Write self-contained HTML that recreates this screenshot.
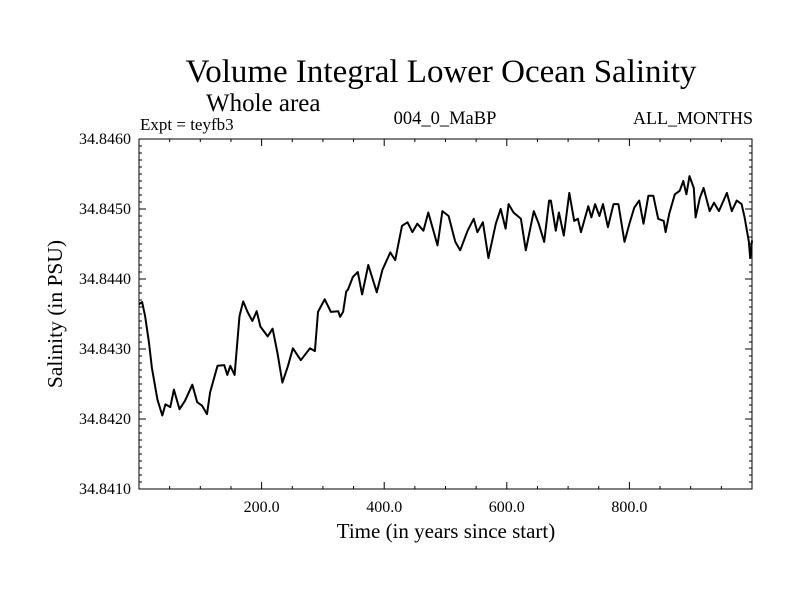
<!DOCTYPE html>
<html><head><meta charset="utf-8"><style>
body{margin:0;background:#fff;}
svg text{font-family:"Liberation Serif",serif;fill:#000;}
</style></head><body>
<svg id="chart" width="800" height="600" viewBox="0 0 800 600" xmlns="http://www.w3.org/2000/svg">
<rect width="800" height="600" fill="#fff"/>
<text x="441" y="82" font-size="33" text-anchor="middle">Volume Integral Lower Ocean Salinity</text>
<text x="206" y="111" font-size="25">Whole area</text>
<text x="140" y="130" font-size="17">Expt = teyfb3</text>
<text x="445" y="124" font-size="18.5" text-anchor="middle">004_0_MaBP</text>
<text x="753" y="124" font-size="18" text-anchor="end">ALL_MONTHS</text>
<text x="446" y="538" font-size="21" text-anchor="middle">Time (in years since start)</text>
<text transform="translate(62,314) rotate(-90)" font-size="21.5" text-anchor="middle">Salinity (in PSU)</text>
<g id="axes"></g>
<g id="series"></g>
</svg>
<script>
const xTicks=[200,400,600,800];
const xTickLabels=["200.0","400.0","600.0","800.0"];
const yTicks=[34.841,34.842,34.843,34.844,34.845,34.846];
const yTickLabels=["34.8410","34.8420","34.8430","34.8440","34.8450","34.8460"];
const years=[0,5,10,16,21,30,38,43,51,57,66,75,87,95,103,111,116,128,139,144,149,156,164,170,177,185,192,198,210,218,226,234,243,251,264,279,287,292,303,313,325,328,333,338,341,349,357,364,374,388,397,410,418,429,438,446,454,464,472,487,495,505,516,524,536,546,552,561,570,582,590,598,603,611,623,631,644,652,661,669,672,680,685,693,702,710,716,721,733,738,744,751,757,765,774,782,792,800,808,816,823,831,839,847,856,859,865,874,882,888,893,898,905,908,915,921,931,938,946,959,967,975,983,988,995,997,1000];
const salinity=[34.84364,34.84367,34.84347,34.84311,34.84273,34.84228,34.84205,34.84221,34.84217,34.84242,34.84214,34.84226,34.84249,34.84224,34.84219,34.84207,34.84238,34.84276,34.84277,34.84263,34.84276,34.84263,34.84347,34.84368,34.84353,34.84340,34.84354,34.84332,34.84318,34.84329,34.84294,34.84252,34.84276,34.84301,34.84284,34.84301,34.84297,34.84353,34.84371,34.84353,34.84354,34.84346,34.84353,34.84382,34.84385,34.84403,34.84410,34.84378,34.84420,34.84381,34.84413,34.84438,34.84427,34.84476,34.84481,34.84467,34.84479,34.84469,34.84495,34.84448,34.84497,34.84490,34.84453,34.84441,34.84469,34.84486,34.84467,34.84481,34.84430,34.84479,34.84500,34.84472,34.84507,34.84495,34.84486,34.84441,34.84497,34.84479,34.84453,34.84512,34.84512,34.84469,34.84495,34.84462,34.84523,34.84483,34.84486,34.84467,34.84504,34.84488,34.84507,34.84490,34.84507,34.84474,34.84507,34.84507,34.84453,34.84479,34.84502,34.84512,34.84479,34.84519,34.84519,34.84486,34.84483,34.84467,34.84493,34.84521,34.84526,34.84540,34.84521,34.84547,34.84530,34.84488,34.84516,34.84530,34.84497,34.84509,34.84497,34.84523,34.84497,34.84512,34.84507,34.84488,34.84453,34.84430,34.84455];

const NS="http://www.w3.org/2000/svg";
const L=139,R=752,T=139,B=489;
const X0=0,X1=1000,Y0=34.841,Y1=34.846;
function xs(v){return L+(v-X0)/(X1-X0)*(R-L);}
function ys(v){return B-(v-Y0)/(Y1-Y0)*(B-T);}
const axes=document.getElementById('axes');
function mk(tag,attrs,parent){const e=document.createElementNS(NS,tag);for(const k in attrs)e.setAttribute(k,attrs[k]);parent.appendChild(e);return e;}
const frame=mk('rect',{x:L,y:T,width:R-L,height:B-T,fill:'none',stroke:'#000','stroke-width':1},axes);


for(let v=50;v<X1;v+=50){
  const major=v%200===0;const len=major?7:3;const x=xs(v);
  const t1=mk('line',{x1:x,x2:x,y1:B,y2:B-len,stroke:'#000'},axes);
  
  
  const t2=mk('line',{x1:x,x2:x,y1:T,y2:T+len,stroke:'#000'},axes);
  
  
}
xTicks.forEach((v,i)=>{
  const t=mk('text',{x:xs(v),y:B+23,'font-size':16,'text-anchor':'middle'},axes);
  t.textContent=xTickLabels[i];
  
  
});
for(let k=1;k<50;k++){
  const v=Y0+k*0.0001;const major=k%10===0;const len=major?7:3;const y=ys(v);
  const t1=mk('line',{x1:L,x2:L+len,y1:y,y2:y,stroke:'#000'},axes);
  
  
  const t2=mk('line',{x1:R,x2:R-len,y1:y,y2:y,stroke:'#000'},axes);
  
  
}
yTicks.forEach((v,i)=>{
  const t=mk('text',{x:L-8,y:ys(v)+5,'font-size':16,'text-anchor':'end'},axes);
  t.textContent=yTickLabels[i];
  
  
});
const d=years.map((yr,i)=>(i?'L':'M')+xs(yr).toFixed(1)+','+ys(salinity[i]).toFixed(1)).join('');
const line=mk('path',{d:d,fill:'none',stroke:'#000','stroke-width':2,'stroke-linejoin':'round'},document.getElementById('series'));


</script>
</body></html>
